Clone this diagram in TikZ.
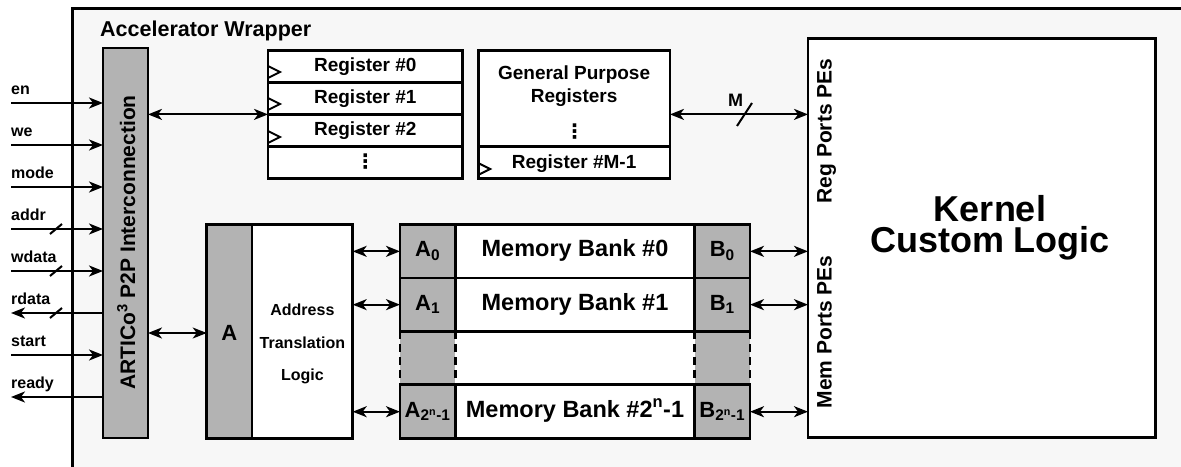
\documentclass[tikz,border=0pt]{standalone}
\usepackage{fontspec}
\setmainfont{Liberation Sans}
\newfontfamily\dejavu{DejaVu Sans}
\usetikzlibrary{arrows.meta}
\definecolor{wrapbg}{HTML}{F7F7F7}
\definecolor{cellgray}{HTML}{B3B3B3}
\newcommand{\fs}[1]{\fontsize{#1}{#1}\selectfont\bfseries}
\begin{document}
\begin{tikzpicture}[x=1pt,y=-1pt,
  box/.style={draw, line width=2.8pt, inner sep=0pt, outer sep=0pt, anchor=north west},
  gbox/.style={box, fill=cellgray},
  wbox/.style={box, fill=white},
  txt/.style={inner sep=0pt, anchor=base},
  vdts/.style={inner sep=0pt, anchor=center, font=\dejavu\bfseries\fontsize{20}{20}\selectfont},
  sig/.style={inner sep=0pt, anchor=base west, font=\fs{16}},
  arr/.style={line width=2pt, -{Stealth[length=14pt,width=11pt,inset=4pt]}},
  darr/.style={line width=2pt, {Stealth[length=14pt,width=11pt,inset=4pt]}-{Stealth[length=14pt,width=11pt,inset=4pt]}},
  bus/.style={line width=2pt},
  clk/.style={line width=2pt, line join=miter},
]
\useasboundingbox (0,0) rectangle (1181,466);
% wrapper
\fill[wrapbg] (72,8) rectangle (1190,475);
\draw[line width=3pt] (72,475) -- (72,8) -- (1190,8);
\node[inner sep=0pt, anchor=base west, font=\fs{21.5}] (wraplbl) at (100,36.5) {Accelerator Wrapper};

% P2P interconnection bar
\node[gbox, minimum width=45pt, minimum height=390pt] (p2p) at (103,48) {};
\node[txt, rotate=90, font=\fs{21}] (p2plbl) at (135,242.5) {ARTICo\textsuperscript{3} P2P Interconnection};

% register stack
\node[wbox, minimum width=194.5pt, minimum height=32.05pt] (reg0) at (268,50.3) {};
\node[wbox, minimum width=194.5pt, minimum height=32.05pt] (reg1) at (268,82.35) {};
\node[wbox, minimum width=194.5pt, minimum height=32.05pt] (reg2) at (268,114.4) {};
\node[wbox, minimum width=194.5pt, minimum height=32.05pt] (reg3) at (268,146.45) {};
\node[txt, font=\fs{19}] (reg0lbl) at (365.3,71.8) {Register \#0};
\node[txt, font=\fs{19}] (reg1lbl) at (365.3,103.9) {Register \#1};
\node[txt, font=\fs{19}] (reg2lbl) at (365.3,135.9) {Register \#2};
\node[vdts] (reg3dots) at (365.3,161.5) {⋮};
\draw[clk] (268,66) -- (280,72) -- (268,78);
\draw[clk] (268,98) -- (280,104) -- (268,110);
\draw[clk] (268,131) -- (280,137) -- (268,143);

% general purpose registers
\node[wbox, minimum width=191.8pt, minimum height=95.9pt] (gpr) at (478.2,50.3) {};
\node[wbox, minimum width=191.8pt, minimum height=32.3pt] (gprlast) at (478.2,146.2) {};
\node[txt, font=\fs{19}] (gprlbl1) at (574.1,79) {General Purpose};
\node[txt, font=\fs{19}] (gprlbl2) at (574.1,102.7) {Registers};
\node[vdts] (gprdots) at (574.6,131.5) {⋮};
\node[txt, font=\fs{19}] (gprlastlbl) at (574.1,168) {Register \#M-1};
\draw[clk] (478.2,163) -- (490.2,169) -- (478.2,175);

% kernel
\node[wbox, minimum width=347.7pt, minimum height=399pt] (kernel) at (808,38.7) {};
\node[inner sep=0pt, anchor=center, align=center, font=\bfseries\fontsize{36}{30.5}\selectfont] (kernlbl) at (990,228) {Kernel\\Custom Logic};
\node[txt, rotate=90, font=\fs{21}] (regports) at (831.7,131) {Reg Ports PEs};
\node[txt, rotate=90, font=\fs{21}] (memports) at (831.7,332) {Mem Ports PEs};

% address translation
\node[gbox, minimum width=45.3pt, minimum height=214pt] (abox) at (206.7,224.7) {};
\node[wbox, minimum width=100.7pt, minimum height=214pt] (atl) at (252,224.7) {};
\node[txt, font=\fs{22}] (alabel) at (229.3,340.7) {A};
\node[txt, font=\fs{16}] (atl1) at (302.4,315) {Address};
\node[txt, font=\fs{16}] (atl2) at (302.4,348) {Translation};
\node[txt, font=\fs{16}] (atl3) at (302.4,380) {Logic};

% memory banks: dashed gap
\fill[cellgray] (400,331.3) rectangle (455.3,384.7);
\fill[white] (455.3,331.3) rectangle (694.7,384.7);
\fill[cellgray] (694.7,331.3) rectangle (750,384.7);
\foreach \xx in {400,455.3,694.7,750}
  \draw[line width=2.8pt, dash pattern=on 8pt off 5pt] (\xx,331.3) -- (\xx,384.7);

\node[gbox, minimum width=55.3pt, minimum height=53.3pt] (a0) at (400,224.7) {};
\node[wbox, minimum width=239.4pt, minimum height=53.3pt] (m0) at (455.3,224.7) {};
\node[gbox, minimum width=55.3pt, minimum height=53.3pt] (b0) at (694.7,224.7) {};
\node[gbox, minimum width=55.3pt, minimum height=53.3pt] (a1) at (400,278) {};
\node[wbox, minimum width=239.4pt, minimum height=53.3pt] (m1) at (455.3,278) {};
\node[gbox, minimum width=55.3pt, minimum height=53.3pt] (b1) at (694.7,278) {};
\node[gbox, minimum width=55.3pt, minimum height=54pt] (an) at (400,384.7) {};
\node[wbox, minimum width=239.4pt, minimum height=54pt] (mn) at (455.3,384.7) {};
\node[gbox, minimum width=55.3pt, minimum height=54pt] (bn) at (694.7,384.7) {};

\node[txt, font=\fs{22}] (a0lbl) at (427.6,256.7) {A\textsubscript{0}};
\node[txt, font=\fs{23.5}] (m0lbl) at (575,256.7) {Memory Bank \#0};
\node[txt, font=\fs{22}] (b0lbl) at (722.3,256.7) {B\textsubscript{0}};
\node[txt, font=\fs{22}] (a1lbl) at (427.6,310) {A\textsubscript{1}};
\node[txt, font=\fs{23.5}] (m1lbl) at (575,310) {Memory Bank \#1};
\node[txt, font=\fs{22}] (b1lbl) at (722.3,310) {B\textsubscript{1}};
\node[txt, font=\fs{22}] (anlbl) at (427.6,417) {A\textsubscript{2\textsuperscript{n}-1}};
\node[txt, font=\fs{23.5}] (mnlbl) at (575,417) {Memory Bank \#2\textsuperscript{n}-1};
\node[txt, font=\fs{22}] (bnlbl) at (722.3,417) {B\textsubscript{2\textsuperscript{n}-1}};

% connectors
\draw[darr] (p2p.east |- reg1.south west) -- (reg1.south west);
\draw[darr] (gpr.east |- reg1.south west) -- (kernel.west |- reg1.south west);
\draw[bus] (737,126) -- (752,103);
\node[txt, font=\fs{18}] (mlbl) at (735.5,106) {M};
\draw[darr] (p2p.east |- 0,333) -- (abox.west |- 0,333);
\draw[darr] (atl.east |- a0.west) -- (a0.west);
\draw[darr] (atl.east |- a1.west) -- (a1.west);
\draw[darr] (atl.east |- an.west) -- (an.west);
\draw[darr] (b0.east) -- (kernel.west |- b0.east);
\draw[darr] (b1.east) -- (kernel.west |- b1.east);
\draw[darr] (bn.east) -- (kernel.west |- bn.east);

% external signals
\coordinate (en) at (11,103);
\coordinate (we) at (11,145);
\coordinate (mode) at (11,187);
\coordinate (addr) at (11,229);
\coordinate (wdata) at (11,271);
\coordinate (rdata) at (11,313);
\coordinate (start) at (11,355);
\coordinate (ready) at (11,397);
\draw[arr] (en) -- (p2p.west |- en);
\draw[arr] (we) -- (p2p.west |- we);
\draw[arr] (mode) -- (p2p.west |- mode);
\draw[arr] (addr) -- (p2p.west |- addr);
\draw[arr] (wdata) -- (p2p.west |- wdata);
\draw[arr] (p2p.west |- rdata) -- (rdata);
\draw[arr] (start) -- (p2p.west |- start);
\draw[arr] (p2p.west |- ready) -- (ready);
\draw[bus] (50,234) -- (62,224);
\draw[bus] (50,276) -- (62,266);
\draw[bus] (50,318) -- (62,308);
\node[sig] (enlbl) at (11,94.5) {en};
\node[sig] (welbl) at (11,136.5) {we};
\node[sig] (modelbl) at (11,178.5) {mode};
\node[sig] (addrlbl) at (11,220.5) {addr};
\node[sig] (wdatalbl) at (11,262.5) {wdata};
\node[sig] (rdatalbl) at (11,304.5) {rdata};
\node[sig] (startlbl) at (11,346.5) {start};
\node[sig] (readylbl) at (11,388.5) {ready};
\end{tikzpicture}
\end{document}
